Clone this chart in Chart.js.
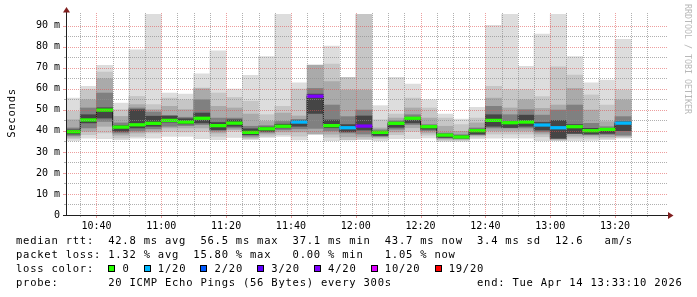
<!DOCTYPE html>
<html lang="es">
<head>
<meta charset="utf-8">
<title>Latencia</title>
<script src="https://cdn.jsdelivr.net/npm/chart.js@4.4.1/dist/chart.umd.min.js"></script>
<style>
    body { margin: 0; background: #fff; }
    #contenedor { position: relative; width: 697px; height: 297px; overflow: hidden; font-family: "DejaVu Sans Mono", monospace; color: #000; }
    #grafica { position: absolute; left: 0; top: 0; }
    #tituloY { position: absolute; left: -19px; top: 107px; width: 60px; line-height: 12px; text-align: center; font-size: 10.5px; letter-spacing: 0.77px; transform: rotate(-90deg); }
    #marca { position: absolute; left: 682px; top: 4px; writing-mode: vertical-rl; font-size: 8.3px; line-height: 11px; color: #b8b8b8; }
    #leyenda { position: absolute; left: 16px; top: 234.4px; font-size: 10.5px; letter-spacing: 0.77px; line-height: 13.7px; white-space: pre; }
    .caja { display: inline-block; width: 7px; height: 7px; box-sizing: border-box; border: 1px solid #000; margin-right: 0.1px; }
</style>
</head>
<body>
<div id="contenedor">
    <canvas id="grafica" width="697" height="297"></canvas>
    <div id="tituloY">Seconds</div>
    <div id="marca">RRDTOOL / TOBI OETIKER</div>
    <div id="leyenda"></div>
</div>
<script>
//Inicio de cada barra de 5 minutos (minutos desde medianoche) y ventana de la gráfica
const inicioBarras = 10 * 60 + 30;
const paso = 5;
const inicio = 10 * 60 + 33 + 10 / 60;
const fin = inicio + 180;

//Humo: rangos de pings ordenados, del más claro (exterior) al más oscuro (interior)
const humoAbajo1 = [35.3,36.6,36.3,35.8,36.6,36.6,37.4,37.4,36.3,35.8,36.9,35.8,36.9,37.4,35.7,null,35.3,null,null,35.3,36.3,36.3,36.6,35.0,35.0,36.3,36.6,36.6,36.6,35.3,35.3,35.3,35.5,35.8,36.5];
const humoArriba1 = [55.6,61.2,71.2,53.2,78.6,99,58.0,57.5,67.2,78.1,59.9,66.4,75.4,99,62.9,null,80.4,null,null,52.0,65.5,62.3,54.8,48.0,45.6,51.2,90.2,99,70.7,86.1,99,75.3,62.9,64.2,83.5];

const humoAbajo2 = [36.3,38.2,39.0,36.6,37.4,39.0,39.8,39.5,39.8,37.4,39.8,36.3,37.4,38.2,37.5,null,37.0,35.7,36.0,36.3,38.2,39.8,38.0,35.6,35.6,37.0,38.5,38.5,38.5,37.2,35.5,36.5,36.5,36.5,37.0];
const humoArriba2 = [49.3,59.6,68.0,50.1,56.4,52.5,55.6,54.8,60.4,58.0,55.9,54.1,47.7,51.7,59.9,null,71.8,65.5,99,45.3,48.0,55.6,50.9,46.1,43.0,46.1,61.2,59.6,59.6,56.3,70.5,66.6,57.1,52.3,59.4];

const humoAbajo3 = [37.0,39.8,42.2,38.0,39.0,39.8,41.4,41.4,41.4,39.0,40.6,36.9,38.5,39.5,39.5,38.5,38.5,37.2,37.2,37.0,39.5,41.5,39.0,36.2,36.0,37.8,40.0,40.0,40.0,38.5,36.0,37.5,37.5,37.2,37.5];
const humoArriba3 = [45.3,54.8,64.8,46.9,52.5,50.1,51.7,50.1,60.0,51.7,50.9,48.0,44.5,48.5,47.1,71.3,63.4,59.4,59.4,41.4,46.1,50.9,46.1,42.2,39.8,43.8,55.6,50.9,54.8,50.7,52.3,60.2,49.9,44.4,54.7];

const humoAbajo4 = [37.8,41.4,44.5,39.0,40.0,41.0,42.2,42.5,43.0,40.0,41.4,37.5,39.3,40.5,41.0,41.2,40.0,39.0,38.5,37.4,40.8,43.0,40.1,36.6,36.3,38.2,41.4,41.4,41.4,39.5,36.3,38.8,38.3,38.3,38.0];
const humoArriba4 = [41.4,50.9,58.0,43.8,50.9,49.0,47.4,46.5,54.8,46.1,46.1,42.2,42.5,44.5,45.5,60.2,52.3,46.8,49.9,40.5,44.8,47.7,43.0,39.0,38.2,41.4,51.7,47.7,50.1,47.5,49.9,52.3,43.6,42.0,46.8];

const humoAbajo5 = [38.5,43.8,46.1,39.8,41.4,42.2,44.2,43.3,43.8,40.6,42.2,38.2,39.8,41.4,42.2,48.3,41.5,39.6,40.4,37.8,41.7,43.8,40.8,36.9,36.6,38.5,42.2,41.6,42.2,40.4,36.5,38.8,38.5,38.8,40.1];
const humoArriba5 = [40.5,47.7,51.0,42.5,50.1,47.0,47.0,45.8,48.5,44.0,45.3,41.0,41.8,43.2,45.0,57.5,45.2,43.0,47.1,39.8,44.2,46.5,42.5,38.5,37.7,40.8,47.7,44.6,47.5,44.0,45.0,43.0,41.2,41.2,44.4];

//Mediana (ms) y pérdida de paquetes (%) por barra
const mediana = [39.6,45.2,49.9,41.8,42.9,43.6,45.0,44.2,46.0,42.5,43.7,39.3,41.0,42.2,44.2,56.5,42.5,41.5,42.3,39.3,43.6,46.0,42.0,38.0,37.1,40.1,45.0,43.9,44.2,42.8,41.5,42.0,40.1,40.7,43.7];
const perdida = [0,0,0,0,0,0,0,0,0,0,0,0,0,0,3.2,15.8,0,2.8,15.2,0,0,0,0,0,0,0,0,0,0,3.4,4.8,0,0,0,1.05];

//Niveles de pérdida (pings de 20) y su color
const nivelesPerdida = [0, 1, 2, 3, 4, 10, 19];
const etiquetasPerdida = ['0', '1/20', '2/20', '3/20', '4/20', '10/20', '19/20'];
const coloresPerdida = ['#26ff00', '#00b8ff', '#0059ff', '#5e00ff', '#7e00ff', '#dd00ff', '#ff0000'];

//Colores del humo, de fuera hacia dentro
const grisesHumo = ['#dddddd', '#c6c6c6', '#aaaaaa', '#808080', '#454545'];

//Obtener el color según los pings perdidos
function colorPerdida(porcentaje) {
    const pings = porcentaje / 5;
    for (let i = 0; i < nivelesPerdida.length; i++) {
        if (pings <= nivelesPerdida[i]) return coloresPerdida[i];
    }
    return coloresPerdida.at(-1);
}

//Convertir un par de arreglos en barras flotantes
function barras(abajo, arriba) {
    return abajo
        .map((v, i) => v === null ? null : { x: inicioBarras + paso * i + paso / 2, y: [v, arriba[i]] })
        .filter(p => p !== null);
}

//Formato de hora para el eje x
function hora(minutos) {
    const h = Math.floor(minutos / 60);
    const m = Math.round(minutos % 60);
    return h + ':' + String(m).padStart(2, '0');
}

const capasHumo = [
    [humoAbajo1, humoArriba1],
    [humoAbajo2, humoArriba2],
    [humoAbajo3, humoArriba3],
    [humoAbajo4, humoArriba4],
    [humoAbajo5, humoArriba5]
];

const datasets = capasHumo.map((capa, j) => ({
    type: 'bar',
    data: barras(capa[0], capa[1]),
    backgroundColor: grisesHumo[j],
    borderWidth: 0,
    grouped: false,
    barPercentage: 1,
    categoryPercentage: 1,
    order: 20 - j
}));

//Línea escalonada negra de la mediana
const puntosMediana = mediana.map((m, i) => ({ x: inicioBarras + paso * i, y: m }));
puntosMediana.push({ x: inicioBarras + paso * mediana.length, y: mediana.at(-1) });
datasets.push({
    type: 'line',
    data: puntosMediana,
    stepped: true,
    borderColor: '#1f1f1f',
    borderWidth: 1,
    pointRadius: 0,
    fill: false,
    order: 3
});

//Mediana coloreada según la pérdida
datasets.push({
    type: 'bar',
    data: mediana.map((m, i) => ({ x: inicioBarras + paso * i + paso / 2, y: [m - 0.62, m + 0.62] })),
    backgroundColor: ctx => colorPerdida(perdida[ctx.dataIndex]),
    borderWidth: 0,
    grouped: false,
    barPercentage: 1,
    categoryPercentage: 1,
    order: 1
});

//Rejilla punteada encima del humo, ejes y flechas
const colorMenor = 'rgba(143,143,143,0.7)';
const colorMayor = 'rgba(222,79,79,0.55)';
const rejilla = {
    id: 'rejilla',
    afterDatasetsDraw(chart) {
        const { ctx, chartArea: a, scales: { x, y } } = chart;
        ctx.save();
        ctx.lineWidth = 1;

        ctx.setLineDash([1, 1]);
        y.ticks.forEach(t => {
            if (t.value === 0 || t.value > 90) return;
            const py = Math.round(y.getPixelForValue(t.value)) + 0.5;
            ctx.strokeStyle = t.value % 10 === 0 ? colorMayor : colorMenor;
            ctx.beginPath();
            ctx.moveTo(a.left, py);
            ctx.lineTo(a.right + 2, py);
            ctx.stroke();
        });
        x.ticks.forEach(t => {
            const px = Math.round(x.getPixelForValue(t.value)) + 0.5;
            ctx.strokeStyle = t.value % 20 === 0 ? colorMayor : colorMenor;
            ctx.beginPath();
            ctx.moveTo(px, a.top - 1);
            ctx.lineTo(px, a.bottom);
            ctx.stroke();
        });

        //Marcas cortas en los ejes
        ctx.setLineDash([]);
        y.ticks.forEach(t => {
            if (t.value > 90) return;
            const py = Math.round(y.getPixelForValue(t.value)) + 0.5;
            const mayor = t.value % 10 === 0;
            ctx.strokeStyle = mayor ? colorMayor : colorMenor;
            ctx.beginPath();
            ctx.moveTo(a.left - (mayor ? 3 : 2), py);
            ctx.lineTo(a.left, py);
            ctx.stroke();
        });
        x.ticks.forEach(t => {
            const px = Math.round(x.getPixelForValue(t.value)) + 0.5;
            const mayor = t.value % 20 === 0;
            ctx.strokeStyle = mayor ? colorMayor : colorMenor;
            ctx.beginPath();
            ctx.moveTo(px, a.bottom);
            ctx.lineTo(px, a.bottom + (mayor ? 3 : 2));
            ctx.stroke();
        });

        //Ejes
        ctx.strokeStyle = '#1f1f1f';
        ctx.beginPath();
        ctx.moveTo(a.left + 0.5, a.bottom);
        ctx.lineTo(a.left + 0.5, a.top - 2);
        ctx.moveTo(a.left - 3, a.bottom + 0.5);
        ctx.lineTo(a.right + 3, a.bottom + 0.5);
        ctx.stroke();

        //Flechas
        ctx.fillStyle = '#801f1f';
        ctx.beginPath();
        ctx.moveTo(a.left - 3, a.top - 1.5);
        ctx.lineTo(a.left + 4, a.top - 1.5);
        ctx.lineTo(a.left + 0.5, a.top - 7);
        ctx.closePath();
        ctx.fill();
        ctx.beginPath();
        ctx.moveTo(a.right + 2, a.bottom - 3);
        ctx.lineTo(a.right + 2, a.bottom + 4);
        ctx.lineTo(a.right + 7.5, a.bottom + 0.5);
        ctx.closePath();
        ctx.fill();
        ctx.restore();
    }
};

const fuente = { family: 'DejaVu Sans Mono', size: 10 };

//Crear la gráfica
new Chart(document.getElementById('grafica'), {
    type: 'bar',
    data: { datasets: datasets },
    options: {
        responsive: false,
        animation: false,
        events: [],
        layout: { padding: { top: 14, right: 31, left: 0, bottom: 0 } },
        plugins: { legend: { display: false }, tooltip: { enabled: false } },
        scales: {
            x: {
                type: 'linear',
                min: inicio,
                max: fin,
                grid: { display: false, drawTicks: false },
                border: { display: false },
                afterBuildTicks: scale => {
                    const marcas = [];
                    for (let v = Math.ceil(inicio / paso) * paso; v <= fin; v += paso) marcas.push({ value: v });
                    scale.ticks = marcas;
                },
                ticks: {
                    autoSkip: false,
                    maxRotation: 0,
                    padding: 5,
                    color: '#000',
                    font: fuente,
                    callback: v => v % 20 === 0 ? hora(v) : ''
                },
                afterFit: scale => { scale.height = 82; }
            },
            y: {
                min: 0,
                max: 95.6,
                grid: { display: false, drawTicks: false },
                border: { display: false },
                afterBuildTicks: scale => {
                    const marcas = [];
                    for (let v = 0; v <= 95; v += 5) marcas.push({ value: v });
                    scale.ticks = marcas;
                },
                ticks: {
                    autoSkip: false,
                    padding: 6,
                    color: '#000',
                    font: fuente,
                    callback: v => v === 0 ? '0' : (v % 10 === 0 ? v + ' m' : '')
                },
                afterFit: scale => { scale.width = 66; }
            }
        }
    },
    plugins: [rejilla]
});

//Textos de la leyenda inferior
const cajas = etiquetasPerdida
    .map((e, i) => `<span class="caja" style="background:${coloresPerdida[i]}"></span> ${e}`)
    .join('  ');
document.getElementById('leyenda').innerHTML = [
    'median rtt:  42.8 ms avg  56.5 ms max  37.1 ms min  43.7 ms now  3.4 ms sd  12.6   am/s',
    'packet loss: 1.32 % avg  15.80 % max   0.00 % min   1.05 % now',
    'loss color:  ' + cajas,
    'probe:       20 ICMP Echo Pings (56 Bytes) every 300s            end: Tue Apr 14 13:33:10 2026'
].join('\n');
</script>
</body>
</html>
